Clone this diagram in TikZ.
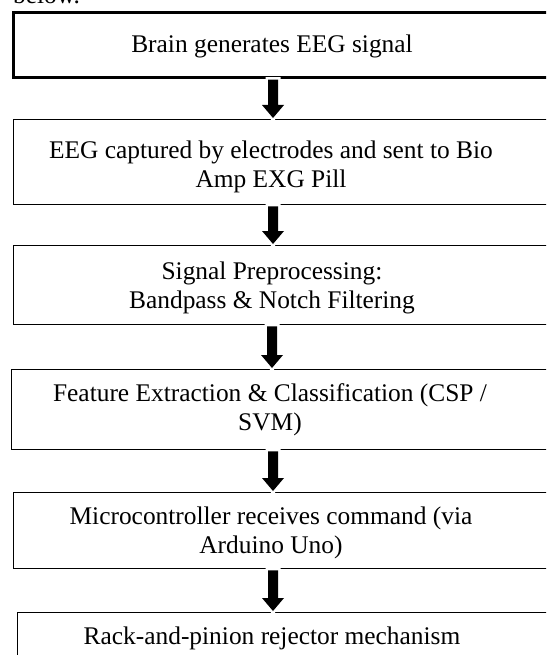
\documentclass[tikz,border=0pt]{standalone}
\usepackage{fontspec}
\setmainfont{Liberation Serif}
\usetikzlibrary{calc}
\tikzset{
  x=1pt, y=-1pt,
  box/.style={draw=black, line width=1.3pt, fill=none, rectangle, inner sep=0pt, anchor=north west},
  thickbox/.style={box, line width=2.6pt},
  txt/.style={font=\fontsize{25.4}{29.2}\selectfont, align=center, inner sep=0pt, anchor=north},
  arrowhalo/.style={draw=white, line width=5pt, line join=miter},
  arrowbody/.style={fill=black}
}
\newcommand{\blockarr}[2]{%
  \path[arrowhalo] ($(#1)+(-5,0)$) -- ($(#2)+(-5,-13)$) -- ($(#2)+(-11,-13)$) -- (#2)
    -- ($(#2)+(11,-13)$) -- ($(#2)+(5,-13)$) -- ($(#1)+(5,0)$) -- cycle;
  \path[arrowbody] ($(#1)+(-5,0)$) -- ($(#2)+(-5,-13)$) -- ($(#2)+(-11,-13)$) -- (#2)
    -- ($(#2)+(11,-13)$) -- ($(#2)+(5,-13)$) -- ($(#1)+(5,0)$) -- cycle;}
\begin{document}
\begin{tikzpicture}
\useasboundingbox (0,0) rectangle (546,655);
\clip (0,0) rectangle (546,655);
\fill[white] (0,0) rectangle (546,655);
% partly visible text above
\node[txt, anchor=base west] (above) at (13,4) {below.};
% boxes
\node[thickbox, minimum width=560pt, minimum height=65pt] (b1) at (12,11) {};
\node[box, minimum width=560pt, minimum height=85pt] (b2) at (13,119) {};
\node[box, minimum width=560pt, minimum height=79pt] (b3) at (13,245) {};
\node[box, minimum width=560pt, minimum height=80pt] (b4) at (11,369) {};
\node[box, minimum width=560pt, minimum height=76pt] (b5) at (13,492) {};
\node[box, minimum width=560pt, minimum height=90pt] (b6) at (17,612) {};
% texts
\node[txt] (t1) at (272,31.6) {\strut Brain generates EEG signal};
\node[txt] (t2) at (271,137.6) {\strut EEG captured by electrodes and sent to Bio\\\strut Amp EXG Pill};
\node[txt] (t3) at (272,258.6) {\strut Signal Preprocessing:\\\strut Bandpass \& Notch Filtering};
\node[txt] (t4) at (270,380.6) {\strut Feature Extraction \& Classification (CSP /\\\strut SVM)};
\node[txt] (t5) at (271,503.6) {\strut Microcontroller receives command (via\\\strut Arduino Uno)};
\node[txt] (t6) at (272,623.6) {\strut Rack-and-pinion rejector mechanism};
% arrow anchor points
\coordinate (a1s) at ($(b1.south west)+(261,1)$);
\coordinate (a1e) at ($(b2.north west)+(260,-1)$);
\coordinate (a2s) at ($(b2.south west)+(260,1)$);
\coordinate (a2e) at ($(b3.north west)+(260,-1)$);
\coordinate (a3s) at ($(b3.south west)+(259,1)$);
\coordinate (a3e) at ($(b4.north west)+(261,-1)$);
\coordinate (a4s) at ($(b4.south west)+(262,1)$);
\coordinate (a4e) at ($(b5.north west)+(260,-1)$);
\coordinate (a5s) at ($(b5.south west)+(260,1)$);
\coordinate (a5e) at ($(b6.north west)+(256,-1)$);
\blockarr{a1s}{a1e}
\blockarr{a2s}{a2e}
\blockarr{a3s}{a3e}
\blockarr{a4s}{a4e}
\blockarr{a5s}{a5e}
\end{tikzpicture}
\end{document}
